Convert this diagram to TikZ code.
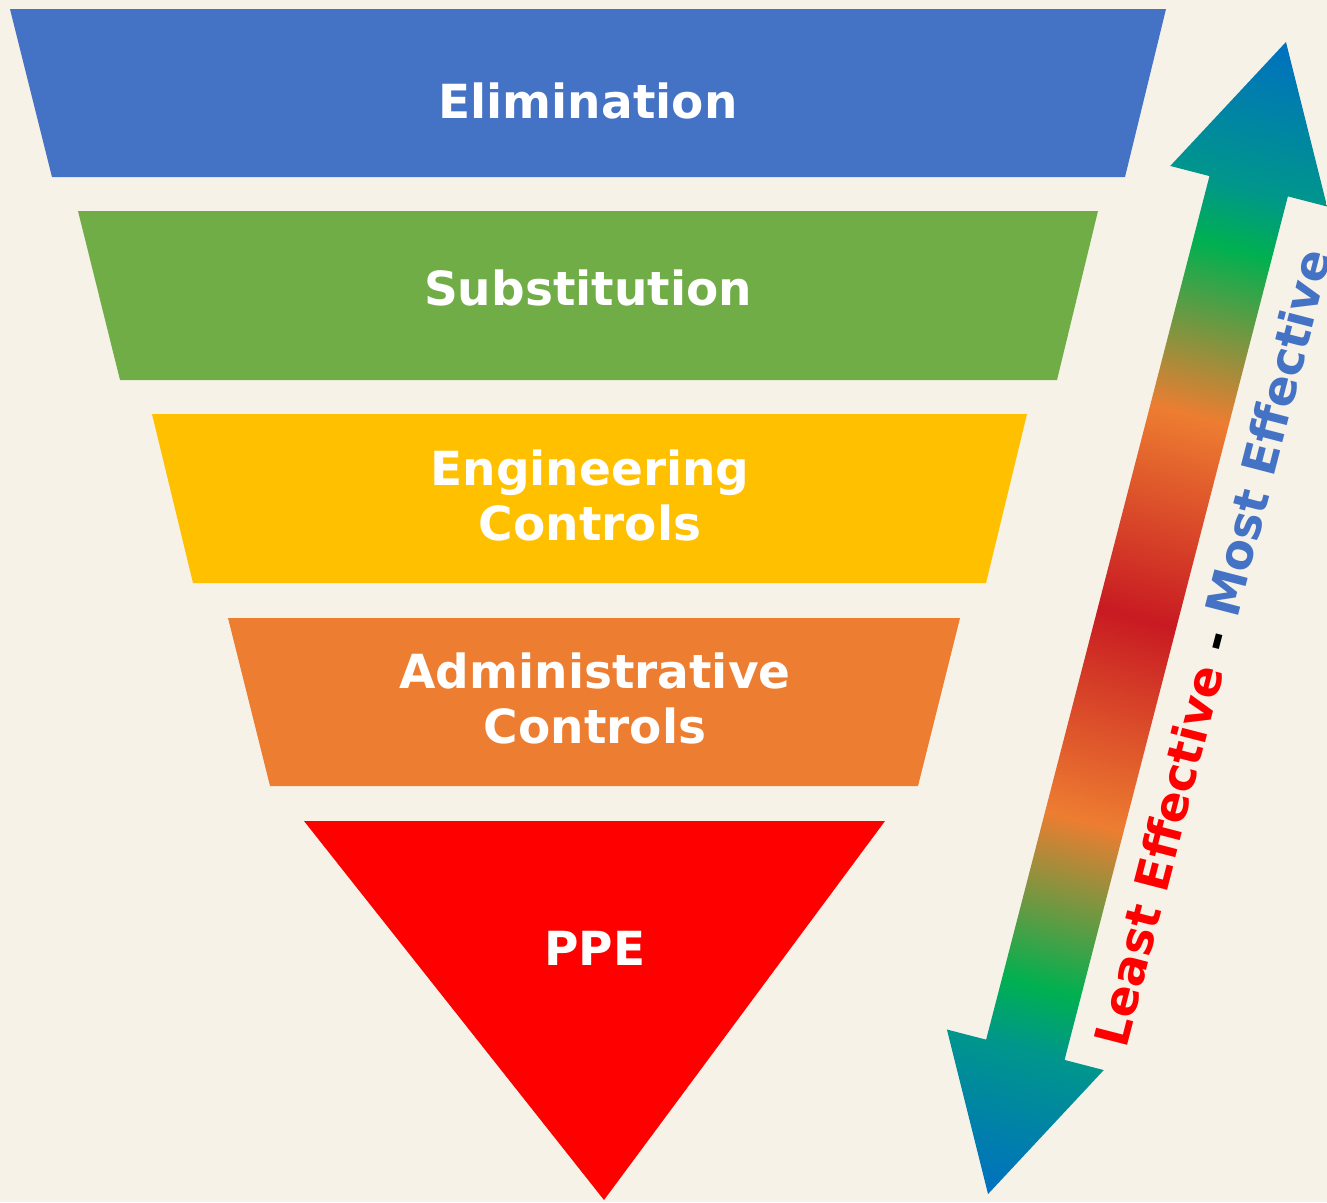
\documentclass[tikz,border=0pt]{standalone}
\usepackage{fontspec}
\setmainfont{DejaVu Sans}
\definecolor{bg}{HTML}{F7F2E8}
\definecolor{cBlue}{HTML}{4472C4}
\definecolor{cGreen}{HTML}{70AD47}
\definecolor{cGold}{HTML}{FFC000}
\definecolor{cOrange}{HTML}{ED7D31}
\definecolor{cRed}{HTML}{FF0000}
\definecolor{aBlue}{HTML}{0070C0}
\definecolor{aTeal}{HTML}{00968C}
\definecolor{aGreen}{HTML}{00B050}
\definecolor{aOrange}{HTML}{ED7D31}
\definecolor{aRed}{HTML}{C81A22}
\pgfdeclarehorizontalshading{effshade}{100bp}{%
  color(0bp)=(aBlue); color(25bp)=(aBlue); color(31.3bp)=(aTeal);
  color(34bp)=(aGreen); color(41.2bp)=(aOrange); color(50bp)=(aRed);
  color(58.8bp)=(aOrange); color(66bp)=(aGreen); color(68.7bp)=(aTeal);
  color(75bp)=(aBlue); color(100bp)=(aBlue)}
\tikzset{
  band/.style={draw=none},
  lbl/.style={text=white, font=\bfseries\fontsize{47}{55}\selectfont, align=center, inner sep=0pt},
}
\begin{document}
\begin{tikzpicture}[x=1pt,y=-1pt]
\fill[bg] (0,0) rectangle (1327,1202);
\useasboundingbox (0,0) rectangle (1327,1202);
% bands
\fill[cBlue]   (10,9) -- (1166,9) -- (1125,177) -- (52,177) -- cycle;
\fill[cGreen]  (78,211) -- (1098,211) -- (1057,380) -- (120,380) -- cycle;
\fill[cGold]   (152,414) -- (1027,414) -- (986,583) -- (193,583) -- cycle;
\fill[cOrange] (228,618) -- (960,618) -- (918,786) -- (270,786) -- cycle;
\fill[cRed]    (304,821) -- (885,821) -- (604,1200) -- cycle;
% labels
\node[lbl] (elim) at (588,101) {Elimination};
\node[lbl] (subs) at (588,288) {Substitution};
\node[lbl] (eng)  at (590,495) {Engineering\\Controls};
\node[lbl] (adm)  at (595,698) {Administrative\\Controls};
\node[lbl] (ppe)  at (595,948) {PPE};
% arrow
\begin{scope}[transform canvas={shift={(1137pt,-618pt)}, rotate=75.5}]
\shade[shading=effshade]
  (595pt,0pt) -- (446pt,81pt) -- (446pt,40.5pt) -- (-446pt,40.5pt) -- (-446pt,81pt)
  -- (-595pt,0pt) -- (-446pt,-81pt) -- (-446pt,-40.5pt) -- (446pt,-40.5pt) -- (446pt,-81pt) -- cycle;
\node[font=\bfseries\fontsize{47}{55}\selectfont, inner sep=0pt] (eff) at (-10pt,-80pt)
  {\textcolor{cRed}{Least Effective} - \textcolor{cBlue}{Most Effective}};
\end{scope}
\end{tikzpicture}
\end{document}
